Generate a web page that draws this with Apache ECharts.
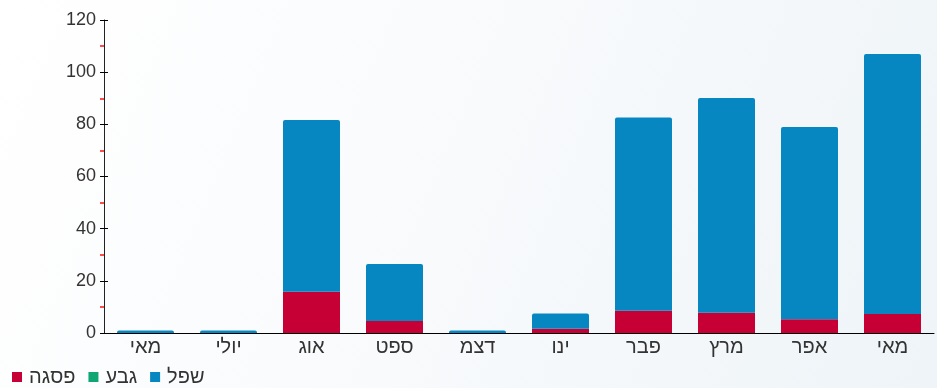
<!DOCTYPE html>
<html>
<head>
<meta charset="utf-8">
<script src="https://cdn.jsdelivr.net/npm/echarts@6/dist/echarts.min.js"></script>
<style>html,body{margin:0;padding:0;}#c{width:937px;height:388px;}</style>
</head>
<body>
<div id="c"></div>
<script>
const categories = ["מאי", "יולי", "אוג", "ספט", "דצמ", "ינו", "פבר", "מרץ", "אפר", "מאי"];
const peakValues = [0, 0, 15.8, 4.6, 0, 1.6, 8.5, 7.8, 5.3, 7.3];      // פסגה
const midValues = [0, 0, 0, 0, 0, 0, 0, 0, 0, 0];                       // גבע
const lowValues = [1, 1, 65.9, 21.9, 1, 5.9, 74.1, 82.3, 73.7, 99.7];  // שפל
const seriesNames = ["פסגה", "גבע", "שפל"];
const yTicks = [0, 20, 40, 60, 80, 100, 120];

const colors = ["#c60035", "#10a673", "#0687c1"];
const numFont = "'Liberation Sans', Arial, sans-serif";
const hebFont = "'Liberation Sans', Arial, sans-serif";

const chart = echarts.init(document.getElementById('c'), null, {renderer: 'canvas'});
chart.setOption({
  backgroundColor: {
    type: 'linear', x: 0, y: 0, x2: 1, y2: 1,
    colorStops: [{offset: 0, color: '#ffffff'}, {offset: 0.5, color: '#f8fafc'}, {offset: 1, color: '#eef4f8'}]
  },
  animation: false,
  color: colors,
  legend: {
    left: 7, top: 362,
    itemWidth: 10, itemHeight: 10, itemGap: 13,
    icon: 'rect',
    textStyle: {fontSize: 20, color: '#333', fontFamily: hebFont, padding: [0, 0, 0, 2]},
    data: seriesNames
  },
  grid: {left: 104, right: 3, top: 20, bottom: 55, containLabel: false},
  xAxis: {
    type: 'category',
    data: categories,
    axisLine: {lineStyle: {color: '#000', width: 1}},
    axisTick: {alignWithLabel: true, length: 3, lineStyle: {color: '#777'}},
    axisLabel: {fontSize: 20, color: '#333', margin: 4, fontFamily: hebFont}
  },
  yAxis: [{
    type: 'value', min: yTicks[0], max: yTicks[yTicks.length - 1], interval: 20,
    axisLine: {show: true, lineStyle: {color: '#222', width: 1}},
    axisTick: {show: true, length: 4, lineStyle: {color: '#000'}},
    minorTick: {show: true, splitNumber: 2, length: 4, lineStyle: {color: '#ff1010', width: 1.5}},
    splitLine: {show: false},
    axisLabel: {fontSize: 18, color: '#333', margin: 8, fontFamily: numFont}
  }, {
    type: 'value', position: 'left', min: yTicks[0], max: yTicks[yTicks.length - 1], interval: 20,
    axisLine: {show: false},
    axisTick: {show: true, inside: true, length: 4, lineStyle: {color: '#000'}},
    splitLine: {show: false},
    axisLabel: {show: false}
  }],
  series: [
    {name: seriesNames[0], type: 'bar', stack: 't', data: peakValues, barWidth: 57, itemStyle: {color: colors[0]}},
    {name: seriesNames[1], type: 'bar', stack: 't', data: midValues, barWidth: 57, itemStyle: {color: colors[1]}},
    {name: seriesNames[2], type: 'bar', stack: 't', data: lowValues, barWidth: 57, itemStyle: {color: colors[2], borderRadius: [2, 2, 0, 0]}}
  ]
});
</script>
</body>
</html>
